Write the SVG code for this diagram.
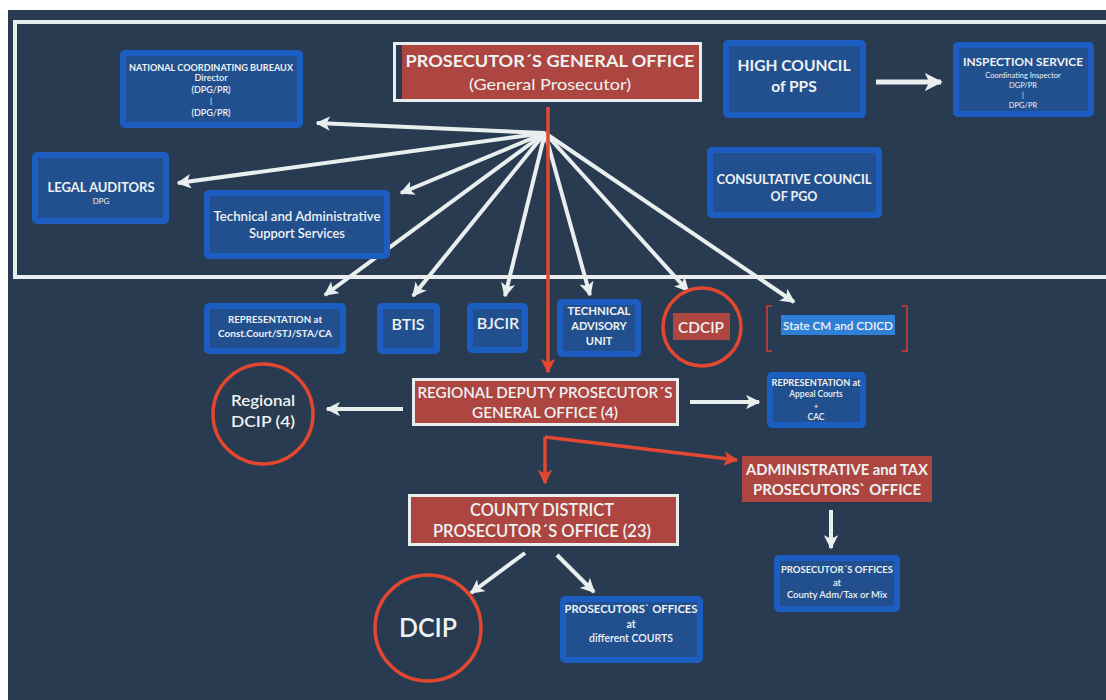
<svg xmlns="http://www.w3.org/2000/svg" width="1106" height="700" viewBox="0 0 1106 700">
<defs>
<marker id="aw" viewBox="0 0 10 10" refX="9" refY="5" markerWidth="3.6" markerHeight="3.6" orient="auto" markerUnits="strokeWidth">
<path d="M0,0 L10,5 L0,10 L2.5,5 z" fill="#e9eeee"/>
</marker>
<marker id="ar" viewBox="0 0 10 10" refX="9" refY="5" markerWidth="4.2" markerHeight="4.2" orient="auto" markerUnits="strokeWidth">
<path d="M0,0 L10,5 L0,10 L2.5,5 z" fill="#e4472f"/>
</marker>
</defs>
<style>
text{font-family:Lato,"Open Sans","Liberation Sans",sans-serif;fill:#eef2f2;text-anchor:middle;font-weight:600}
.b{font-weight:bold}
.n{font-weight:normal}
.blue{fill:#22508e;stroke:#1c5dc2;stroke-width:6}
.red{fill:#ad4540;stroke:#e8eded;stroke-width:3}
.circ{fill:none;stroke:#e4472f;stroke-width:3.5}
.wl{fill:none;stroke:#e9eeee;stroke-width:4;marker-end:url(#aw)}
.rl{fill:none;stroke:#e4472f;stroke-width:3.5;marker-end:url(#ar)}
</style>
<rect x="0" y="0" width="1106" height="700" fill="#ffffff"/>
<rect x="8" y="10" width="1098" height="690" fill="#283b50"/>
<rect x="15" y="22" width="1100" height="255" fill="none" stroke="#e8eded" stroke-width="4"/>

<g id="connectors">
<path class="wl" d="M545,133 L317,123"/>
<path class="wl" d="M545,133 L178,183"/>
<path class="wl" d="M545,133 L401,193"/>
<path class="wl" d="M545,133 L325,295"/>
<path class="wl" d="M545,133 L413,296"/>
<path class="wl" d="M545,133 L505,296"/>
<path class="wl" d="M545,133 L590,295"/>
<path class="wl" d="M545,133 L688,291"/>
<path class="wl" d="M545,133 L794,302"/>
<path class="rl" d="M548,107 L548,372"/>
<path class="wl" d="M876,82 L941,82" style="stroke-width:5"/>
<path class="wl" d="M403,409 L327,409"/>
<path class="wl" d="M690,402 L759,402"/>
<path class="rl" d="M545,437 L545,483"/>
<path class="rl" d="M545,437 L737,460"/>
<path class="wl" d="M831,510 L831,548"/>
<path class="wl" d="M525,553 L471,593"/>
<path class="wl" d="M557,555 L594,592"/>
</g>

<g id="pgo">
<rect class="red" x="394.5" y="43.5" width="306" height="57"/>
<rect x="396" y="45" width="6" height="54" fill="#283b50"/>
<text class="b" x="550" y="67" font-size="17.5" textLength="289" lengthAdjust="spacingAndGlyphs">PROSECUTOR´S GENERAL OFFICE</text>
<text class="n" x="550" y="90" font-size="16" textLength="162" lengthAdjust="spacingAndGlyphs">(General Prosecutor)</text>
</g>

<g id="ncb">
<rect class="blue" x="123" y="53" width="177" height="72" rx="2"/>
<text class="b" x="211" y="71" font-size="9" textLength="164" lengthAdjust="spacingAndGlyphs">NATIONAL COORDINATING BUREAUX</text>
<text x="211" y="81" font-size="9">Director</text>
<text x="211" y="93" font-size="9">(DPG/PR)</text>
<text x="211" y="104" font-size="8">|</text>
<text x="211" y="116" font-size="9">(DPG/PR)</text>
</g>

<g id="legal-auditors">
<rect class="blue" x="35" y="155" width="131" height="66" rx="2"/>
<text class="b" x="101" y="192" font-size="13" textLength="107" lengthAdjust="spacingAndGlyphs">LEGAL AUDITORS</text>
<text class="n" x="101" y="204" font-size="8">DPG</text>
</g>

<g id="tech-admin">
<rect class="blue" x="207" y="193" width="180" height="63" rx="2"/>
<text x="297" y="221" font-size="13" textLength="167" lengthAdjust="spacingAndGlyphs">Technical and Administrative</text>
<text x="297" y="238" font-size="13" textLength="96" lengthAdjust="spacingAndGlyphs">Support Services</text>
</g>

<g id="high-council">
<rect class="blue" x="726" y="43" width="137" height="72" rx="2"/>
<text class="b" x="794" y="71" font-size="15.5" textLength="113" lengthAdjust="spacingAndGlyphs">HIGH COUNCIL</text>
<text class="b" x="794" y="92" font-size="15.5">of PPS</text>
</g>

<g id="inspection">
<rect class="blue" x="956" y="45" width="135" height="69" rx="2"/>
<text class="b" x="1023" y="66" font-size="11" textLength="120" lengthAdjust="spacingAndGlyphs">INSPECTION SERVICE</text>
<text class="n" x="1023" y="78" font-size="7.5">Coordinating Inspector</text>
<text class="n" x="1023" y="88" font-size="7.5">DGP/PR</text>
<text class="n" x="1023" y="98" font-size="7">|</text>
<text class="n" x="1023" y="108" font-size="7.5">DPG/PR</text>
</g>

<g id="consultative">
<rect class="blue" x="710" y="150" width="169" height="65" rx="2"/>
<text class="b" x="794" y="184" font-size="12.5" textLength="155" lengthAdjust="spacingAndGlyphs">CONSULTATIVE COUNCIL</text>
<text class="b" x="794" y="201" font-size="12.5">OF PGO</text>
</g>

<g id="rep-const">
<rect class="blue" x="207" y="306" width="136" height="45" rx="2"/>
<text class="b" x="275" y="323" font-size="9" textLength="94" lengthAdjust="spacingAndGlyphs">REPRESENTATION at</text>
<text class="b" x="275" y="337" font-size="9.5" textLength="114" lengthAdjust="spacingAndGlyphs">Const.Court/STJ/STA/CA</text>
</g>

<g id="btis">
<rect class="blue" x="380" y="306" width="57" height="45" rx="2"/>
<text x="408" y="330" font-size="16">BTIS</text>
</g>

<g id="bjcir">
<rect class="blue" x="470" y="306" width="55" height="44" rx="2"/>
<text x="498" y="329" font-size="16">BJCIR</text>
</g>

<g id="tau">
<rect class="blue" x="560" y="302" width="78" height="52" rx="2"/>
<text class="b" x="599" y="315" font-size="11" textLength="63" lengthAdjust="spacingAndGlyphs">TECHNICAL</text>
<text class="b" x="599" y="330" font-size="11">ADVISORY</text>
<text class="b" x="599" y="345" font-size="11">UNIT</text>
</g>

<g id="cdcip">
<circle class="circ" cx="702" cy="327" r="39"/>
<rect x="673" y="313" width="57" height="27" fill="#ad4540"/>
<text x="701" y="332.5" font-size="15.5" textLength="46" lengthAdjust="spacingAndGlyphs">CDCIP</text>
</g>

<g id="state-cm">
<path d="M772,306 L767,306 L767,351 L772,351 M902,306 L907,306 L907,351 L902,351" fill="none" stroke="#b03a3a" stroke-width="2"/>
<rect x="781" y="315" width="114" height="20" fill="#2e7fd6"/>
<text x="838" y="329.5" font-size="11" textLength="110" lengthAdjust="spacingAndGlyphs">State CM and CDICD</text>
</g>

<g id="regional-dcip">
<circle class="circ" cx="263" cy="414" r="50"/>
<text x="263" y="406" font-size="16" textLength="64" lengthAdjust="spacingAndGlyphs">Regional</text>
<text x="263" y="427" font-size="16" textLength="64" lengthAdjust="spacingAndGlyphs">DCIP (4)</text>
</g>

<g id="regional-deputy">
<rect class="red" x="413.5" y="379.5" width="264" height="45"/>
<text x="545" y="398" font-size="15.5" textLength="255" lengthAdjust="spacingAndGlyphs">REGIONAL DEPUTY PROSECUTOR´S</text>
<text x="545" y="418" font-size="15.5" textLength="146" lengthAdjust="spacingAndGlyphs">GENERAL OFFICE (4)</text>
</g>

<g id="rep-appeal">
<rect class="blue" x="770" y="375" width="93" height="50" rx="2"/>
<text class="b" x="816" y="386" font-size="8.5" textLength="89" lengthAdjust="spacingAndGlyphs">REPRESENTATION at</text>
<text x="816" y="397" font-size="8.5">Appeal Courts</text>
<text x="816" y="409" font-size="8">+</text>
<text x="816" y="420" font-size="8.5">CAC</text>
</g>

<g id="admin-tax">
<rect x="742" y="456" width="190" height="46" fill="#ad4540"/>
<text class="b" x="837" y="475" font-size="15.5" textLength="182" lengthAdjust="spacingAndGlyphs">ADMINISTRATIVE and TAX</text>
<text class="b" x="837" y="495" font-size="15.5" textLength="168" lengthAdjust="spacingAndGlyphs">PROSECUTORS` OFFICE</text>
</g>

<g id="county-offices">
<rect class="blue" x="777" y="558" width="120" height="51" rx="2"/>
<text class="b" x="837" y="573" font-size="9.5" textLength="112" lengthAdjust="spacingAndGlyphs">PROSECUTOR´S OFFICES</text>
<text x="837" y="586" font-size="9.5">at</text>
<text x="837" y="598" font-size="9.5">County Adm/Tax or Mix</text>
</g>

<g id="county-district">
<rect class="red" x="409.5" y="495.5" width="268" height="49"/>
<text x="542" y="516" font-size="16.5" textLength="144" lengthAdjust="spacingAndGlyphs">COUNTY DISTRICT</text>
<text x="542" y="537" font-size="16.5" textLength="218" lengthAdjust="spacingAndGlyphs">PROSECUTOR´S OFFICE (23)</text>
</g>

<g id="dcip">
<circle class="circ" cx="428" cy="628" r="53"/>
<text x="428" y="637" font-size="26" textLength="58" lengthAdjust="spacingAndGlyphs">DCIP</text>
</g>

<g id="courts-offices">
<rect class="blue" x="563" y="599" width="137" height="61" rx="2"/>
<text class="b" x="631" y="613" font-size="10.5" textLength="133" lengthAdjust="spacingAndGlyphs">PROSECUTORS` OFFICES</text>
<text class="b" x="631" y="628" font-size="10.5">at</text>
<text x="631" y="642" font-size="10.5">different COURTS</text>
</g>
</svg>
